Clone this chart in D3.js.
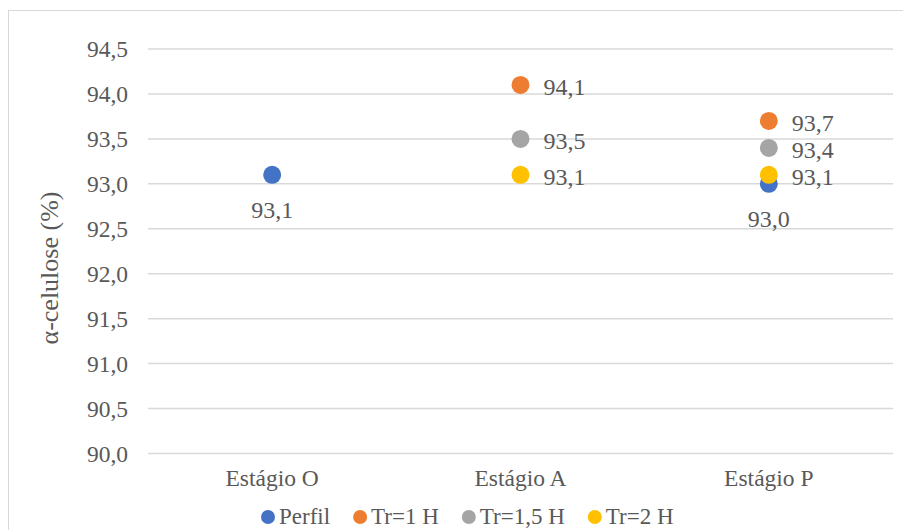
<!DOCTYPE html>
<html>
<head>
<meta charset="utf-8">
<script src="https://cdn.jsdelivr.net/npm/d3@7"></script>
<style>
  html, body { margin: 0; padding: 0; background: #fff; }
</style>
</head>
<body>
<svg id="chart" width="903" height="530"></svg>
<script>
// Stages on the category axis
const categories = ["Estágio O", "Estágio A", "Estágio P"];

// Series (null = no measurement at that stage)
const seriesNames = ["Perfil", "Tr=1 H", "Tr=1,5 H", "Tr=2 H"];
const perfil  = [93.1, null, 93.0];
const tr1h    = [null, 94.1, 93.7];
const tr15h   = [null, 93.5, 93.4];
const tr2h    = [null, 93.1, 93.1];
const seriesColors = ["#4472C4", "#ED7D31", "#A5A5A5", "#FFC000"];

// Y axis ticks
const yTicks = [90.0, 90.5, 91.0, 91.5, 92.0, 92.5, 93.0, 93.5, 94.0, 94.5];
const yTitle = "α-celulose (%)";

// Where each point's data label sits relative to the marker
const labelSide = [
  ["below", null, "below"],
  [null, "right", "right"],
  [null, "right", "right"],
  [null, "right", "right"]
];

const FONT = "'Liberation Serif', 'Times New Roman', serif";
const TEXT = "#595959";
const seriesValues = [perfil, tr1h, tr15h, tr2h];
const fmt = v => d3.format(".1f")(v).replace(".", ",");

const svg = d3.select("#chart");
const W = 903, H = 530;

// chart frame
svg.append("rect")
  .attr("x", 8.5).attr("y", 10.5)
  .attr("width", W).attr("height", H)
  .attr("fill", "#fff").attr("stroke", "#d9d9d9").attr("stroke-width", 1);

const plot = { left: 148, right: 893, top: 49, bottom: 453.5 };

const x = d3.scaleBand().domain(categories).range([plot.left, plot.right]);
const y = d3.scaleLinear().domain([90, 94.5]).range([plot.bottom, plot.top]);

// gridlines
svg.append("g")
  .selectAll("line").data(yTicks).join("line")
  .attr("x1", plot.left).attr("x2", plot.right)
  .attr("y1", d => y(d)).attr("y2", d => y(d))
  .attr("stroke", "#d9d9d9").attr("stroke-width", 1.5);

// y axis
const yAxis = svg.append("g")
  .attr("transform", `translate(${plot.left - 12},0)`)
  .call(d3.axisLeft(y).tickValues(yTicks).tickFormat(fmt).tickSize(0).tickPadding(8));
yAxis.select(".domain").remove();
yAxis.selectAll("text")
  .style("font-family", FONT).style("font-size", "23.5px").attr("fill", TEXT);

// x axis labels
const xAxis = svg.append("g")
  .attr("transform", `translate(0,${plot.bottom})`)
  .call(d3.axisBottom(x).tickSize(0).tickPadding(16));
xAxis.select(".domain").remove();
xAxis.selectAll("text")
  .style("font-family", FONT).style("font-size", "23.5px").attr("fill", TEXT);

// y title
svg.append("text")
  .attr("transform", `translate(58,268) rotate(-90)`)
  .attr("text-anchor", "middle")
  .style("font-family", FONT).style("font-size", "26px").attr("fill", TEXT)
  .text(yTitle);

// points and data labels
seriesValues.forEach((vals, si) => {
  const pts = categories.map((c, ci) => ({ c, ci, v: vals[ci] })).filter(d => d.v !== null);
  const g = svg.append("g");
  g.selectAll("circle").data(pts).join("circle")
    .attr("cx", d => x(d.c) + x.bandwidth() / 2)
    .attr("cy", d => y(d.v))
    .attr("r", 9)
    .attr("fill", seriesColors[si]);
  g.selectAll("text").data(pts).join("text")
    .attr("x", d => x(d.c) + x.bandwidth() / 2 + (labelSide[si][d.ci] === "right" ? 23 : 0))
    .attr("y", d => y(d.v) + (labelSide[si][d.ci] === "right" ? 2 : 35))
    .attr("dy", "0.35em")
    .attr("text-anchor", d => labelSide[si][d.ci] === "right" ? "start" : "middle")
    .style("font-family", FONT).style("font-size", "24px").attr("fill", TEXT)
    .text(d => fmt(d.v));
});

// legend
const legendItems = seriesNames.map((n, i) => ({ n, c: seriesColors[i] }));
const legend = svg.append("g").attr("transform", "translate(0,516)");
const items = legend.selectAll("g").data(legendItems).join("g");
items.append("circle").attr("r", 7).attr("cy", 1).attr("fill", d => d.c);
items.append("text").attr("x", 11).attr("dy", "0.35em")
  .style("font-family", FONT).style("font-size", "23px").attr("fill", TEXT)
  .text(d => d.n);
const textW = [];
items.select("text").each(function () { textW.push(this.getComputedTextLength()); });
let cx = 268;
items.attr("transform", (d, i) => {
  const t = `translate(${cx},0)`;
  cx += 11 + textW[i] + 30;
  return t;
});
</script>
</body>
</html>
